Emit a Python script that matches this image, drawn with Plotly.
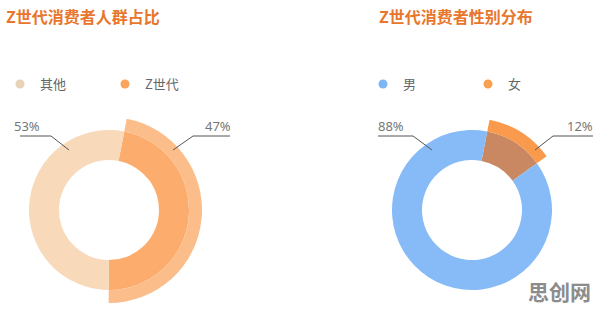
import plotly.graph_objects as go

W, H = 596, 311

# ---- data ----
left_title = "Z世代消费者人群占比"
right_title = "Z世代消费者性别分布"
left_labels = ["Z世代", "其他"]
left_values = [47, 53]
right_labels = ["女", "男"]
right_values = [12, 88]
watermark = "思创网"

# colours
c_other = "#F8D9BA"
c_z = "#FCAD6E"
c_z_band = "#FBBD8A"
c_male = "#86BBF7"
c_female_in = "#C98762"
c_female_band = "#F99A4C"
title_color = "#E8762C"


def px(x):
    return x / W


def py(y):
    return 1 - y / H


def dom(cx, cy, r):
    return dict(x=[px(cx - r), px(cx + r)], y=[py(cy + r), py(cy - r)])


fig = go.Figure()

# left donut base ring
fig.add_trace(go.Pie(
    labels=left_labels, values=left_values, sort=False, direction="clockwise",
    rotation=11, hole=50 / 80, domain=dom(109, 210, 80),
    marker=dict(colors=[c_z, c_other], line=dict(width=0)),
    textinfo="none", hoverinfo="label+percent", showlegend=False))
# left emphasised outer band of Z世代
fig.add_trace(go.Pie(
    labels=left_labels, values=left_values, sort=False, direction="clockwise",
    rotation=11, hole=80 / 93, domain=dom(109, 210, 93),
    marker=dict(colors=[c_z_band, "rgba(0,0,0,0)"], line=dict(width=0)),
    textinfo="none", hoverinfo="skip", showlegend=False))

# right donut base ring
fig.add_trace(go.Pie(
    labels=right_labels, values=right_values, sort=False, direction="clockwise",
    rotation=11, hole=50 / 80, domain=dom(472, 210, 80),
    marker=dict(colors=[c_female_in, c_male], line=dict(width=0)),
    textinfo="none", hoverinfo="label+percent", showlegend=False))
fig.add_trace(go.Pie(
    labels=right_labels, values=right_values, sort=False, direction="clockwise",
    rotation=11, hole=80 / 92, domain=dom(472, 210, 92),
    marker=dict(colors=[c_female_band, "rgba(0,0,0,0)"], line=dict(width=0)),
    textinfo="none", hoverinfo="skip", showlegend=False))

# legend entries (circle symbols)
for name, col, lg in [("其他", "#E8D3B8", "legend"), ("Z世代", "#F9A45C", "legend"),
                      ("男", "#7DB6F5", "legend2"), ("女", "#F9A050", "legend2")]:
    fig.add_trace(go.Scatter(x=[None], y=[None], mode="markers", name=name,
                             marker=dict(size=9, color=col), legend=lg,
                             showlegend=True, hoverinfo="skip"))

font_family = "Noto Sans CJK SC"
ann = []
ann.append(dict(text="<b>" + left_title + "</b>", x=px(4), y=py(16), xref="paper", yref="paper",
                xanchor="left", yanchor="middle", showarrow=False,
                font=dict(size=16, color=title_color, family=font_family)))
ann.append(dict(text="<b>" + right_title + "</b>", x=px(377), y=py(16), xref="paper", yref="paper",
                xanchor="left", yanchor="middle", showarrow=False,
                font=dict(size=16, color=title_color, family=font_family)))

pct_left = [f"{v / sum(left_values) * 100:.0f}%" for v in left_values]
pct_right = [f"{v / sum(right_values) * 100:.0f}%" for v in right_values]
for text, x in [(pct_left[1], 27), (pct_left[0], 218), (pct_right[1], 391), (pct_right[0], 580)]:
    ann.append(dict(text=text, x=px(x), y=py(126), xref="paper", yref="paper",
                    xanchor="center", yanchor="middle", showarrow=False,
                    font=dict(size=13, color="#777777", family="Noto Sans")))
ann.append(dict(text="<b>" + watermark + "</b>", x=px(559), y=py(291), xref="paper", yref="paper",
                xanchor="center", yanchor="middle", showarrow=False,
                font=dict(size=21, color="#8C8C8C", family=font_family)))

shapes = []
for pts in [[(20, 136), (51, 136), (69, 150)],
            [(230, 136), (193, 136), (173, 150)],
            [(378, 136), (413, 136), (432, 150)],
            [(593, 136), (553, 136), (535, 150)]]:
    path = "M " + " L ".join(f"{px(a)},{py(b)}" for a, b in pts)
    shapes.append(dict(type="path", path=path, xref="paper", yref="paper",
                       line=dict(color="#555555", width=1)))

leg_common = dict(orientation="h", xanchor="left", yanchor="middle",
                  font=dict(size=13, color="#666666", family=font_family),
                  bgcolor="rgba(0,0,0,0)", entrywidthmode="pixels", entrywidth=60,
                  itemwidth=30, traceorder="normal")

fig.update_layout(
    width=W, height=H, margin=dict(l=0, r=0, t=0, b=0),
    paper_bgcolor="white", plot_bgcolor="rgba(0,0,0,0)",
    xaxis=dict(visible=False), yaxis=dict(visible=False),
    annotations=ann, shapes=shapes,
    legend=dict(x=px(0), y=py(84), **leg_common),
    legend2=dict(x=px(363), y=py(84), **leg_common),
)

fig.write_html("out.html")
